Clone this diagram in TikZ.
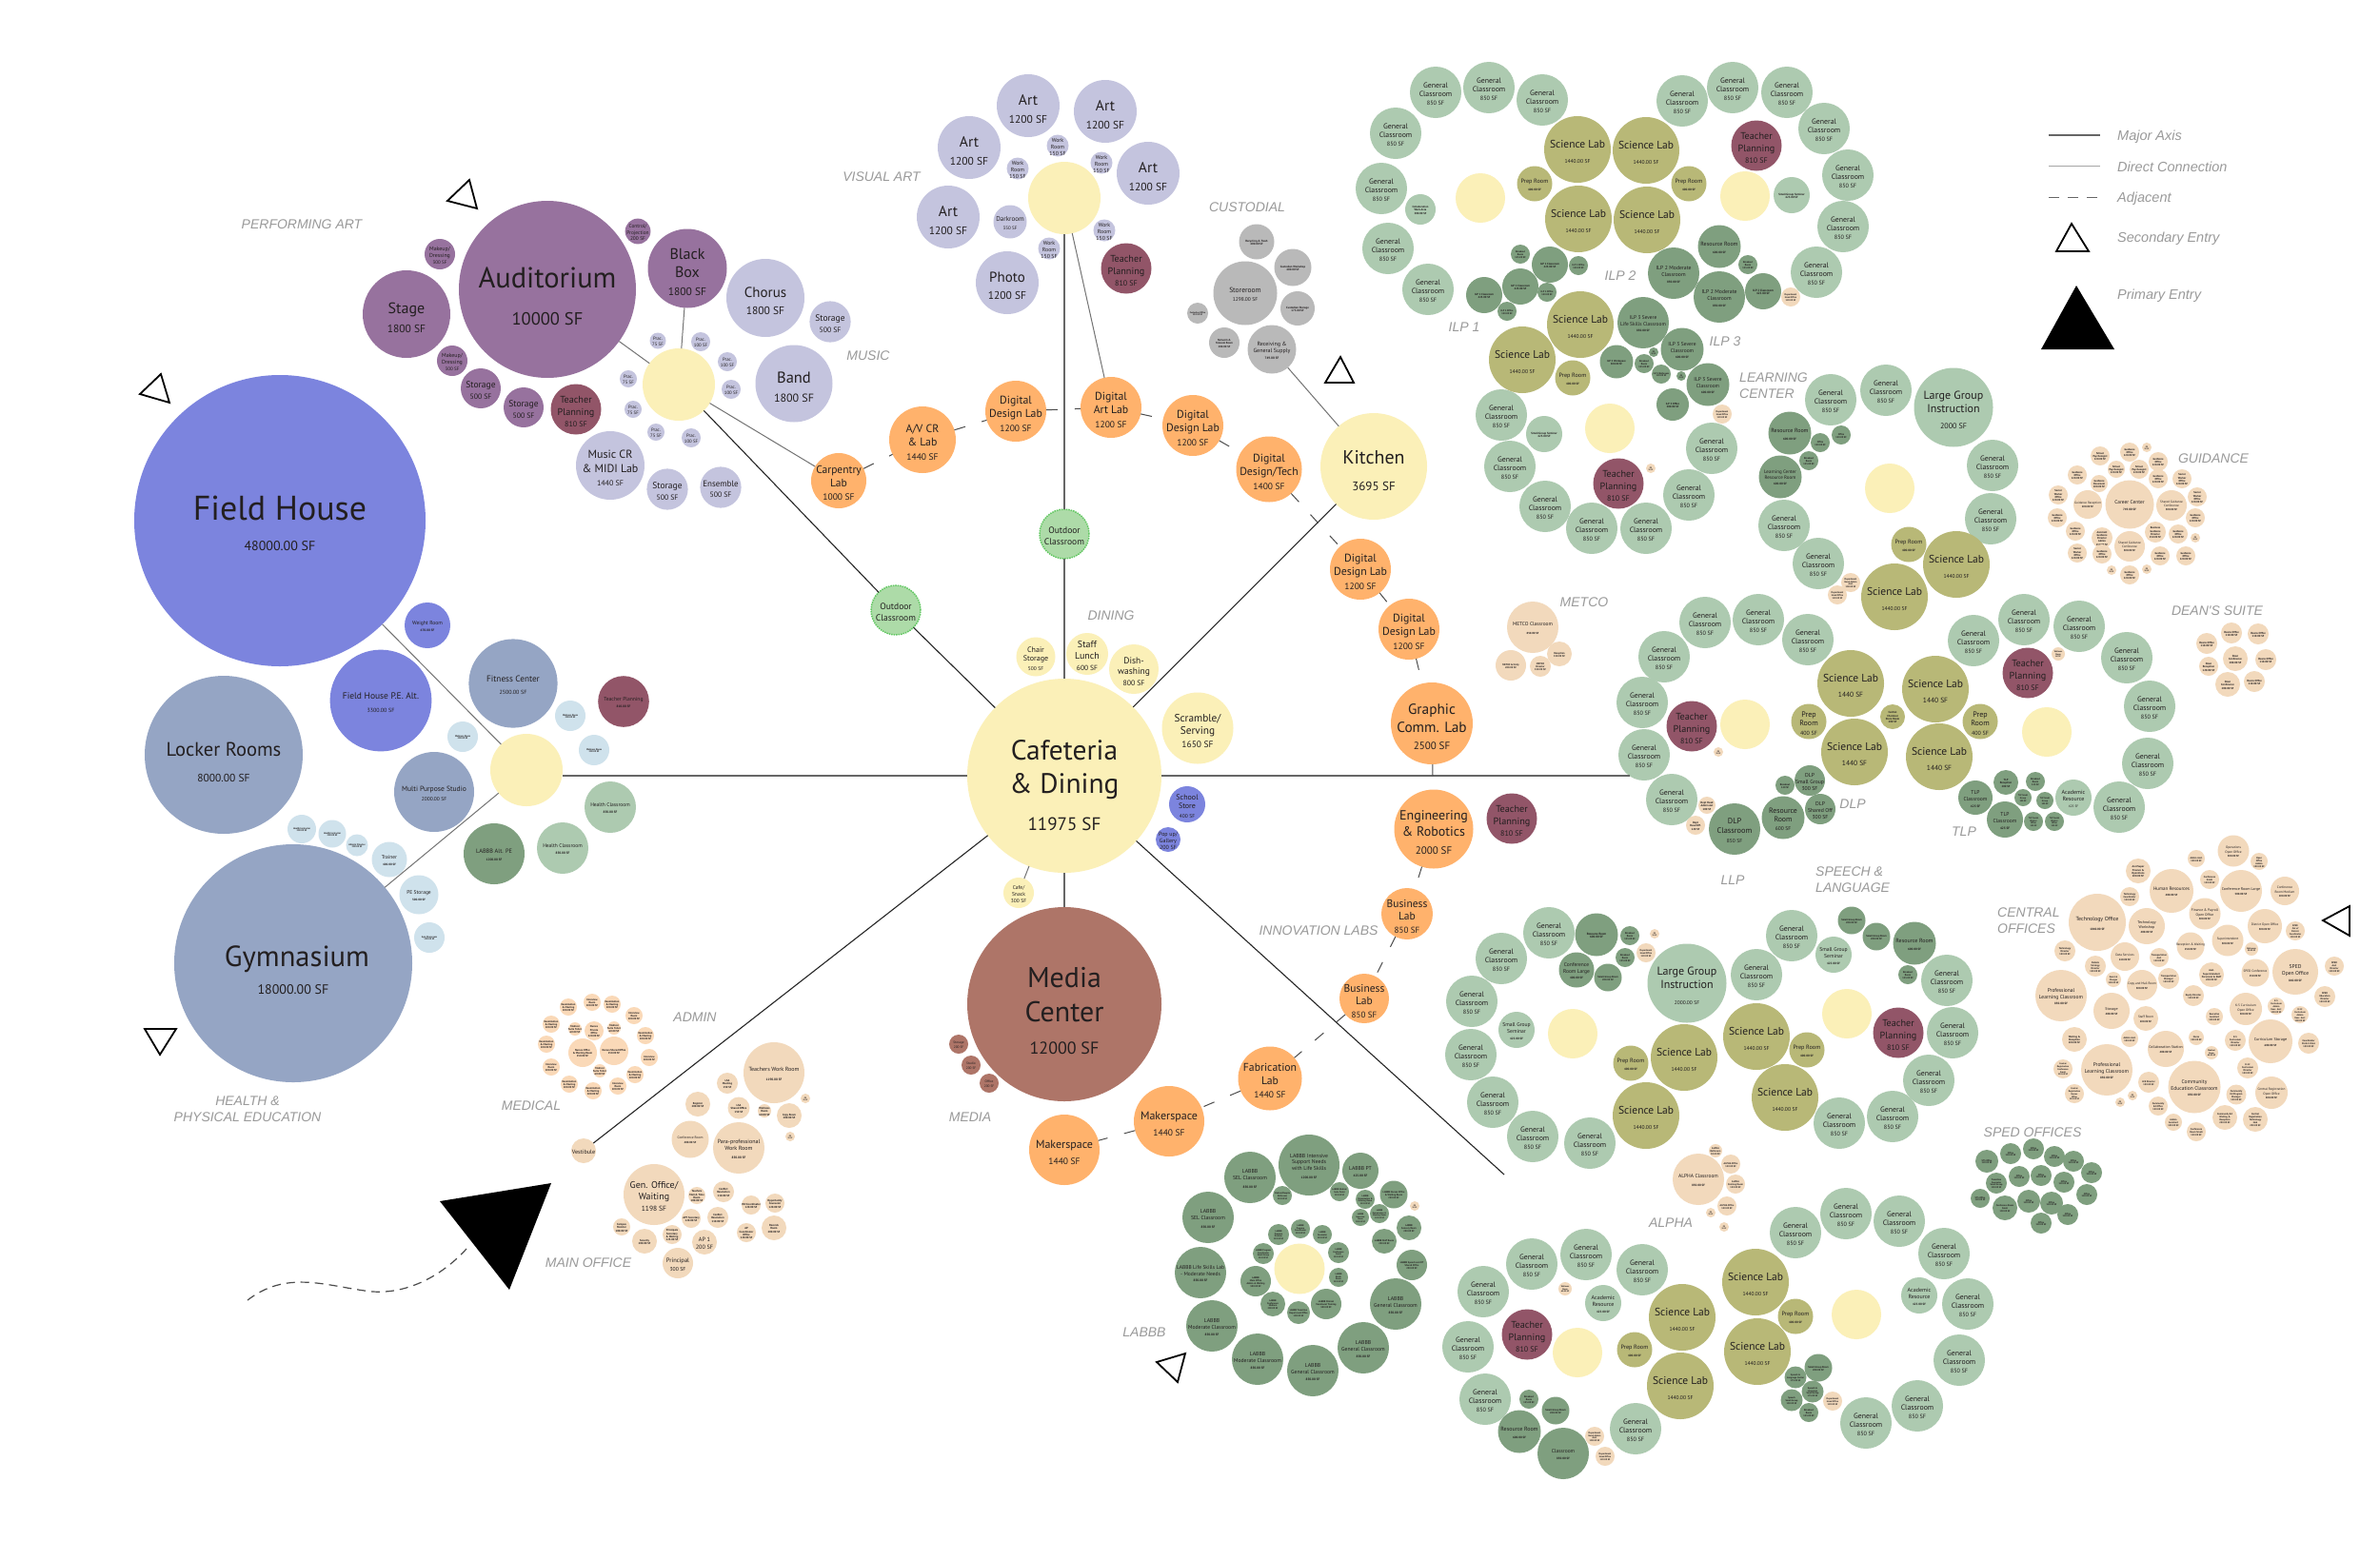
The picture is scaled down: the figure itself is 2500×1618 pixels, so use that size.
\documentclass[tikz,border=0pt]{standalone}
\usepackage{fontspec}
\setmainfont{PT Sans}
\newfontfamily\zonefont{Liberation Sans}

\definecolor{inkc}{HTML}{231F20}
\definecolor{fieldc}{HTML}{7C84DE}
\definecolor{gymc}{HTML}{95A5C4}
\definecolor{gymsmc}{HTML}{CFE2EC}
\definecolor{perfc}{HTML}{97729E}
\definecolor{artc}{HTML}{C4C4DE}
\definecolor{teachc}{HTML}{925568}
\definecolor{hubc}{HTML}{FBF0B8}
\definecolor{labc}{HTML}{FFB26C}
\definecolor{genc}{HTML}{ADCAB0}
\definecolor{darkc}{HTML}{7F9F7F}
\definecolor{scic}{HTML}{B8B877}
\definecolor{officec}{HTML}{F2D9BC}
\definecolor{medc}{HTML}{FAD9B8}
\definecolor{custc}{HTML}{B9B9B9}
\definecolor{mediac}{HTML}{AE7568}
\definecolor{outc}{HTML}{ADDBA8}
\definecolor{outlinec}{HTML}{62C862}
\definecolor{zonec}{HTML}{9A9A9A}

\newsavebox\rtbox
\newcommand{\setfs}[1]{\ifdim#1pt<3.3pt\fontsize{\fpeval{#1*1.12}}{\fpeval{#1*1.3}}\selectfont\bfseries\else\fontsize{#1}{\fpeval{#1*1.2}}\selectfont\fi}
\newcommand{\sft}[2]{{\setfs{#1}#2}}
\newcommand{\rt}[2][0pt]{\sbox\rtbox{\begin{tabular}{@{}c@{}}#2\end{tabular}}\makebox[0pt]{\smash{\raisebox{\dimexpr.5\dp\rtbox-.5\ht\rtbox-.35em+#1\relax}{\copy\rtbox}}}}

\tikzset{
  room/.style={circle,minimum size=#1*2pt,inner sep=0pt,outer sep=0pt,text=inkc},
  fs/.style={font=\setfs{#1}},
  axisline/.style={draw=black!60,line width=1.6pt},
  majorline/.style={draw=black!85,line width=1.1pt},
  directline/.style={draw=black!55,line width=1pt},
  adjline/.style={draw=black!70,line width=1pt,dash pattern=on 12pt off 18pt},
  zone/.style={font=\zonefont\itshape\setfs{#1},text=zonec,align=left,inner sep=0pt,yshift=-1.5pt},
  zone/.default=14,
  entry/.style={draw=black,line width=1.8pt,fill=white},
}

\begin{document}
\begin{tikzpicture}[x=1pt,y=-1pt]
  \useasboundingbox[fill=white] (0,0) rectangle (2500,1618);

  % Dining
  \node[room=102,fill=hubc,fs=29.5] (cafe) at (1118,815) {\rt[-3pt]{Cafeteria\\\& Dining\\[3pt]\sft{19}{11975 SF}}};
  \node[room=20.5,fill=hubc,fs=8] (chair) at (1088,690) {\rt{Chair\\Storage\\\sft{5.5}{500 SF}}};
  \node[room=22,fill=hubc,fs=10] (lunch) at (1142,687) {\rt{Staff\\Lunch\\\sft{7.5}{600 SF}}};
  \node[room=26,fill=hubc,fs=9.5] (dish) at (1191,703) {\rt{Dish-\\washing\\\sft{7.8}{800 SF}}};
  \node[room=37.5,fill=hubc,fs=11.3] (scramble) at (1258,765) {\rt{Scramble/\\Serving\\\sft{9.5}{1650 SF}}};
  \node[room=19,fill=fieldc,fs=8] (store) at (1247,845) {\rt{School\\Store\\\sft{5.5}{400 SF}}};
  \node[room=13,fill=fieldc,fs=6] (popup) at (1227,882) {\rt{Pop up/\\Gallery\\200 SF}};
  \node[room=16,fill=hubc,fs=5.6] (snack) at (1070,938) {\rt{Cafe/\\Snack\\\sft{5.5}{300 SF}}};
  \node[room=56,fill=hubc,fs=20] (kitchen) at (1443,490) {\rt{Kitchen\\[4pt]\sft{13}{3695 SF}}};

  % Athletics
  \node[room=153,fill=fieldc,fs=36] (field) at (294,547) {\rt[5.6pt]{Field House\\[-11pt]\sft{14}{48000.00 SF}}};
  \node[room=83,fill=gymc,fs=20.5] (locker) at (235,793) {\rt[-3pt]{Locker Rooms\\[2pt]\sft{11.5}{8000.00 SF}}};
  \node[room=125,fill=gymc,fs=30.6] (gym) at (308,1012) {\rt{\hspace*{8pt}Gymnasium\\[-8pt]\sft{14}{18000.00 SF}}};
  \node[room=53.4,fill=fieldc,fs=9.5] (fieldpe) at (400,736) {\rt{Field House P.E. Alt.\\[2pt]\sft{6}{3300.00 SF}}};
  \node[room=46.6,fill=gymc,fs=9.2] (fitness) at (539,718) {\rt{Fitness Center\\[2pt]\sft{6}{2500.00 SF}}};
  \node[room=42,fill=gymc,fs=7.6] (multi) at (456,832) {\rt{Multi Purpose Studio\\\sft{5.5}{2000.00 SF}}};
  \node[room=38,fill=hubc] (hubpe) at (553,809) {};
  \node[room=24,fill=fieldc,fs=5.6] (weight) at (449,657) {\rt{Weight Room\\\sft{3}{670.00 SF}}};
  \node[room=26.8,fill=teachc,fs=5.6] (teachpe) at (655,737) {\rt{Teacher Planning\\\sft{3}{810.00 SF}}};
  \node[room=27,fill=genc,fs=5.5] (health1) at (641,848) {\rt{Health Classroom\\\sft{3}{850.00 SF}}};
  \node[room=27,fill=genc,fs=5.5] (health2) at (591,891) {\rt{Health Classroom\\\sft{3}{850.00 SF}}};
  \node[room=32,fill=darkc,fs=6.3] (labbbpe) at (519,897) {\rt{LABBB Alt. PE\\\sft{3}{1200.00 SF}}};
  \node[room=18.5,fill=gymsmc,fs=5.5] (trainer) at (409,903) {\rt{Trainer\\\sft{2.8}{400.00 SF}}};
  \node[room=20.5,fill=gymsmc,fs=5.5] (pestore) at (440,940) {\rt{PE Storage\\\sft{2.8}{500.00 SF}}};
  \foreach \x/\y/\r/\lbl [count=\n] in {
      599/752/16/{Wellness Room}, 624/788/16/{Wellness Room}, 486/774/16/{Wellness Room},
      317/871/15/{Health Instructor}, 349/876/14.5/{Health Instructor},
      375/888/11.5/{Athletic Director}, 451/985/16/{Gym Storeroom}}
    \node[room=\r,fill=gymsmc,fs=2.2] (gymsm\n) at (\x,\y) {\rt{\lbl\\200.00 SF}};

  % Performing art and music
  \node[room=93,fill=perfc,fs=30.5] (audit) at (575,304) {\rt{Auditorium\\[3pt]\sft{18.5}{10000 SF}}};
  \node[room=46,fill=perfc,fs=16] (stage) at (427,330) {\rt{Stage\\\sft{11.5}{1800 SF}}};
  \node[room=41.5,fill=perfc,fs=16] (blackbox) at (722,282) {\rt{Black\\Box\\\sft{11.5}{1800 SF}}};
  \node[room=16,fill=perfc,fs=5.9] (makeup1) at (462,267) {\rt{Makeup/\\Dressing\\\sft{5}{300 SF}}};
  \node[room=16,fill=perfc,fs=5.9] (makeup2) at (475,379) {\rt{Makeup/\\Dressing\\\sft{5}{300 SF}}};
  \node[room=21,fill=perfc,fs=9.5] (perfstore1) at (505,408) {\rt{Storage\\\sft{7.8}{500 SF}}};
  \node[room=21,fill=perfc,fs=9.5] (perfstore2) at (550,428) {\rt{Storage\\\sft{7.8}{500 SF}}};
  \node[room=13.4,fill=perfc,fs=5.4] (control) at (670,243) {\rt{Control/\\Projection\\200 SF}};
  \node[room=38,fill=hubc] (hubmusic) at (713,404) {};
  \foreach \x/\y/\r/\lbl [count=\n] in {
      691/358/8.5/75, 736/359/10/100, 764/380/10/100, 768/409/10/100,
      660/398/9/75, 665/430/9/75, 689/454/9/75, 726/460/10/100}
    \node[room=\r,fill=artc,fs=4.8] (prac\n) at (\x,\y) {\rt{Prac.\\\lbl{} SF}};
  \node[room=41,fill=artc,fs=15] (chorus) at (804,313) {\rt{Chorus\\\sft{11.5}{1800 SF}}};
  \node[room=40.5,fill=artc,fs=16.5] (band) at (834,403) {\rt{Band\\\sft{12}{1800 SF}}};
  \node[room=21.6,fill=artc,fs=9.5] (musicstore1) at (872,338) {\rt{Storage\\\sft{7.8}{500 SF}}};
  \node[room=21.6,fill=artc,fs=9.5] (musicstore2) at (701,514) {\rt{Storage\\\sft{7.8}{500 SF}}};
  \node[room=21.6,fill=artc,fs=9] (ensemble) at (757,512) {\rt{Ensemble\\\sft{7.8}{500 SF}}};
  \node[room=36,fill=artc,fs=12] (midi) at (641,489) {\rt{Music CR\\\& MIDI Lab\\\sft{8}{1440 SF}}};

  % Visual art
  \node[room=38,fill=hubc] (hubart) at (1118,208) {};
  \foreach \x/\y [count=\n] in {1080/111,1161/117,1018/155,1206/182,996/228}
    \node[room=33,fill=artc,fs=15.5] (art\n) at (\x,\y) {\rt{Art\\\sft{11.5}{1200 SF}}};
  \node[room=33,fill=artc,fs=15] (photo) at (1058,297) {\rt{Photo\\\sft{11.5}{1200 SF}}};
  \node[room=17.5,fill=artc,fs=7] (darkroom) at (1061,233) {\rt{Darkroom\\\sft{5}{350 SF}}};
  \foreach \x/\y [count=\n] in {1111/153,1157/171,1069/177,1160/242,1102/261}
    \node[room=11.5,fill=artc,fs=5.8] (work\n) at (\x,\y) {\rt{Work\\Room\\150 SF}};

  % Custodial
  \foreach \x/\y/\r/\s/\lbl [count=\n] in {
      1320/254/18.5/2.7/{Recycling \& Trash\\400.00 SF}, 1358/281/19.5/2.7/{Custodian Workshop\\400.00 SF},
      1308/308/33.5/7.5/{Storeroom\\\sft{5.5}{1298.00 SF}}, 1363/324/18/2.7/{Custodian Storage\\175.00 SF},
      1258/329/11/2.1/{Custodian Office\\150.00 SF}, 1286/360/16/2.6/{Network \&\\Telecom Room\\200.00 SF},
      1336/367/25.5/6/{Receiving \&\\General Supply\\\sft{3}{749.00 SF}}}
    \node[room=\r,fill=custc,fs=\s] (cust\n) at (\x,\y) {\rt{\lbl}};

  % Labs along the spine
  \node[room=29,fill=labc,fs=11.5] (carpentry) at (881,505) {\rt{Carpentry\\Lab\\\sft{9.5}{1000 SF}}};
  \node[room=35,fill=labc,fs=11.8] (avlab) at (969,462) {\rt{A/V CR\\\& Lab\\\sft{9.5}{1440 SF}}};
  \node[room=32,fill=labc,fs=11.8] (design1) at (1067,432) {\rt{Digital\\Design Lab\\\sft{9.5}{1200 SF}}};
  \node[room=32,fill=labc,fs=11.8] (artlab) at (1167,428) {\rt{Digital\\Art Lab\\\sft{9.5}{1200 SF}}};
  \node[room=32,fill=labc,fs=11.8] (design2) at (1253,447) {\rt{Digital\\Design Lab\\\sft{9.5}{1200 SF}}};
  \node[room=34.5,fill=labc,fs=11.8] (designtech) at (1333,493) {\rt{Digital\\Design/Tech\\\sft{9.5}{1400 SF}}};
  \node[room=32,fill=labc,fs=11.8] (design3) at (1429,598) {\rt{Digital\\Design Lab\\\sft{9.5}{1200 SF}}};
  \node[room=32,fill=labc,fs=11.8] (design4) at (1480,661) {\rt{Digital\\Design Lab\\\sft{9.5}{1200 SF}}};
  \node[room=43,fill=labc,fs=15.3] (graphic) at (1504,760) {\rt{Graphic\\Comm. Lab\\\sft{11}{2500 SF}}};
  \node[room=41.5,fill=labc,fs=14] (robotics) at (1506,871) {\rt{Engineering\\\& Robotics\\[2pt]\sft{11}{2000 SF}}};
  \node[room=27,fill=labc,fs=11.5] (business1) at (1478,960) {\rt{Business\\Lab\\\sft{9}{850 SF}}};
  \node[room=26,fill=labc,fs=11.5] (business2) at (1433,1049) {\rt{Business\\Lab\\\sft{9}{850 SF}}};
  \node[room=33.5,fill=labc,fs=11.7] (fablab) at (1334,1133) {\rt{Fabrication\\Lab\\\sft{9.5}{1440 SF}}};
  \node[room=37,fill=labc,fs=12] (maker2) at (1228,1178) {\rt{Makerspace\\[3pt]\sft{9.5}{1440 SF}}};
  \node[room=37,fill=labc,fs=12] (maker1) at (1118,1208) {\rt{Makerspace\\[3pt]\sft{9.5}{1440 SF}}};
  \node[room=26,fill=outc,draw=outlinec,densely dotted,line width=1.5pt,fs=9.5] (outdoor1) at (941,641) {\rt{Outdoor\\Classroom}};
  \node[room=26,fill=outc,draw=outlinec,densely dotted,line width=1.5pt,fs=9.5] (outdoor2) at (1118,561) {\rt{Outdoor\\Classroom}};

  % Media
  \node[room=102,fill=mediac,fs=30] (media) at (1118,1055) {\rt{Media\\Center\\[-2pt]\sft{18}{12000 SF}}};
  \node[room=10,fill=mediac,fs=3.5] (mediastore) at (1007,1097) {\rt{Storage\\200 SF}};
  \node[room=10,fill=mediac,fs=3.5] (mediastudio) at (1020,1119) {\rt{Studio\\200 SF}};
  \node[room=10,fill=mediac,fs=3.5] (mediaoffice) at (1039,1138) {\rt{Office\\200 SF}};

  % Teacher planning
  \foreach \x/\y [count=\n] in {605/430,1183/282,1588/860,1845/153,1700/508,1777/763,2130/707,1994/1085,1604/1402}
    \node[room=26.5,fill=teachc,fs=10.2] (teach\n) at (\x,\y) {\rt{Teacher\\Planning\\\sft{8}{810 SF}}};

  % Hubs of the classroom clusters
  \foreach \x/\y [count=\n] in {1555/208,1833/206,1691/450,1985/513,1833/761,2150/769,1652/1086,1940/1065,1657/1421,1950/1381}
    \node[room=26,fill=hubc] (hub\n) at (\x,\y) {};

  % General classrooms
  \foreach \x/\y [count=\n] in {
      1508/97,1564/92,1620/105,1466/140,1451/198,1458/261,1500/304,
      1767/106,1820/92,1877/97,1916/135,1941/184,1936/238,1908/286,
      1577/436,1586/490,1623/532,1672/555,1729/555,1774/520,1798/471,
      1923/420,1981/410,2093/489,2091/545,1874/552,1910/592,
      1791/654,1847/651,1899/672,1748/690,1725/738,1727/793,1756/840,
      2073/673,2126/651,2184/658,2234/691,2258/742,2256/802,2226/848,
      1627/980,1577/1007,1546/1052,1545/1108,1568/1158,1610/1194,1670/1201,
      1882/983,1845/1024,2045/1030,2051/1085,2026/1135,1988/1173,1932/1180,
      1609/1328,1666/1318,1725/1334,1558/1357,1542/1415,1560/1470,1718/1501,
      1886/1295,1939/1275,1995/1283,2042/1317,2067/1370,2058/1429,2014/1477,1960/1495}
    \node[room=27,fill=genc,fs=7.8] (gen\n) at (\x,\y) {\rt{General\\Classroom\\\sft{6.2}{850 SF}}};

  % Science labs
  \foreach \x/\y [count=\n] in {1657/157,1729/158,1658/230,1730/231,1660/341,1599/378,2055/593,1990/627,
      1769/1111,1729/1172,1845/1089,1875/1153,1767/1384,1765/1456,1844/1347,1846/1420}
    \node[room=35,fill=scic,fs=11.5] (sci\n) at (\x,\y) {\rt{Science Lab\\[2pt]\sft{5.6}{1440.00 SF}}};
  \foreach \x/\y [count=\n] in {1944/718,1948/790,2033/724,2037/795}
    \node[room=35,fill=scic,fs=11.5] (scib\n) at (\x,\y) {\rt{Science Lab\\[2pt]\sft{7.5}{1440 SF}}};
  \foreach \x/\y [count=\n] in {1612/193,1774/193,1652/397,2005/572,1713/1117,1898/1103,1717/1418,1886/1383}
    \node[room=18.5,fill=scic,fs=6.2] (prep\n) at (\x,\y) {\rt{Prep Room\\\sft{2.8}{400.00 SF}}};
  \foreach \x/\y [count=\n] in {1900/758,2080/758}
    \node[room=18.5,fill=scic,fs=8] (prepb\n) at (\x,\y) {\rt{Prep\\Room\\\sft{6}{400 SF}}};
  \node[room=13,fill=scic,fs=2.6] (chem) at (1988,753) {\rt{Central\\Chemical\\Store Room\\200 SF}};

  % Large group rooms and seminars
  \foreach \x/\y/\r/\s/\lbl [count=\n] in {
      2052/428/41.5/12/{Large Group\\Instruction\\[3pt]\sft{8}{2000 SF}},
      1772/1033/41.5/12/{Large Group\\Instruction\\[3pt]\sft{5.5}{2000.00 SF}},
      1492/220/16/2.6/{Collaboration\\Work Area\\300.00 SF}, 1882/205/19/2.7/{Small Group Seminar\\425.00 SF},
      1622/456/19/2.7/{Small Group Seminar\\425.00 SF}, 1593/1082/19/5.6/{Small Group\\Seminar\\\sft{2.8}{425.00 SF}},
      1926/1003/19/5.6/{Small Group\\Seminar\\\sft{2.8}{425.00 SF}}, 1684/1369/19/6/{Academic\\Resource\\\sft{2.8}{425.00 SF}},
      2016/1361/19/6/{Academic\\Resource\\\sft{2.8}{425.00 SF}}, 2178/838/19/6/{Academic\\Resource\\\sft{3.5}{425 SF}}}
    \node[room=\r,fill=genc,fs=\s] (sem\n) at (\x,\y) {\rt{\lbl}};

  % Special programs
  \foreach \x/\y/\r/\s/\lbl [count=\n] in {
      1758/287/27/5.7/{ILP 2 Moderate\\Classroom\\\sft{2.8}{850.00 SF}}, 1806/312/27/5.7/{ILP 2 Moderate\\Classroom\\\sft{2.8}{850.00 SF}},
      1806/259/22.5/6/{Resource Room\\\sft{2.8}{600.00 SF}}, 1836/278/10/2.3/{Breakout\\Room\\125.00 SF},
      1852/306/19/2.8/{ILP 2 Classroom\\425.00 SF},
      1628/278/19/2.6/{ILP 1 Classroom\\425.00 SF}, 1597/301/19/2.6/{ILP 1 Classroom\\425.00 SF}, 1559/310/19/2.6/{ILP 1 Classroom\\425.00 SF},
      1658/279/10/2.3/{ILP 1 Office\\120.00 SF}, 1625/307/10/2.3/{ILP 1 Office\\120.00 SF}, 1583/327/10/2.3/{ILP 1 Office\\120.00 SF},
      1597/267/10/2.3/{Breakout\\Room\\125.00 SF},
      1726/339/27/5.4/{ILP 3 Severe\\Life Skills Classroom\\\sft{2.8}{850.00 SF}},
      1767/367/22.5/5.5/{ILP 3 Severe\\Classroom\\\sft{2.8}{600.00 SF}}, 1794/404/22.5/5.5/{ILP 3 Severe\\Classroom\\\sft{2.8}{600.00 SF}},
      1698/380/17.5/2.5/{ILP 3 Workspace\\300.00 SF}, 1727/382/10/2.3/{Breakout\\Room\\125.00 SF},
      1745/393/10/2.2/{ILP 3 Bathroom\\120.00 SF}, 1757/425/17/2.6/{ILP 3 Office\\300.00 SF},
      1880/455/22.5/6/{Resource Room\\\sft{2.8}{600.00 SF}}, 1870/501/22.5/5/{Learning Center\\Resource Room\\\sft{2.8}{600.00 SF}},
      1912/465/10/2.3/{Office\\120.00 SF}, 1934/457/10/2.3/{Office\\120.00 SF}, 1900/484/10/2.3/{Breakout\\Room\\125.00 SF},
      2075/838/18/5.6/{TLP\\Classroom\\\sft{3}{425 SF}}, 2106/861/19/5.6/{TLP\\Classroom\\\sft{3}{425 SF}},
      2107/822/13/2.6/{TLP\\Reception\\200 SF}, 2138/821/10/2.3/{Breakout\\Room\\125 SF},
      2125/838/9/2.1/{TLP Small\\Group\\100 SF}, 2148/841/9/2.1/{TLP Small\\Group\\100 SF},
      2136/863/10/2.1/{TLP Social\\Worker\\Office\\120 SF}, 2158/863/10/2.1/{TLP Social\\Worker\\Office\\120 SF},
      1822/871/27/8.3/{DLP\\Classroom\\\sft{5.5}{850 SF}}, 1873/859/22.5/7.8/{Resource\\Room\\\sft{5.5}{600 SF}},
      1901/820/16/5.7/{DLP\\Small Group\\300 SF}, 1875/825/10/2.4/{Breakout\\120 SF}, 1912/850/16/5.7/{DLP\\Shared Off\\300 SF},
      1677/982/22.5/2.8/{Resource Room\\600.00 SF}, 1712/983/10/2.3/{Breakout\\Room\\125.00 SF}, 1707/1006/10/2.3/{Breakout\\Room\\125.00 SF},
      1656/1019/18.5/5.5/{Conference\\Room Large\\\sft{2.8}{400.00 SF}}, 1689/1027/14.5/2.4/{Small Group Room\\200.00 SF},
      1945/967/14.5/2.4/{Small Group Room\\200.00 SF}, 1971/984/14.5/2.4/{Small Group Room\\200.00 SF},
      2011/991/22.5/6/{Resource Room\\\sft{2.8}{600.00 SF}}, 2004/1024/10/2.3/{Breakout\\Room\\125.00 SF},
      1606/1470/10/2.3/{Breakout\\Room\\125.00 SF}, 1634/1482/14.5/2.4/{Small Group Room\\200.00 SF},
      1596/1504/22.5/6/{Resource Room\\\sft{2.8}{600.00 SF}}, 1642/1527/27/5.5/{Classroom\\\sft{2.8}{850.00 SF}},
      1910/1437/14.5/2.4/{Small Group Room\\200.00 SF}, 1886/1447/11.5/2.2/{Speech \&\\Language Center\\175.00 SF},
      1904/1462/11.5/2.2/{Speech \&\\Language\\Small Group\\175.00 SF}, 1882/1471/11.5/2.2/{Speech\\Small Group\\150.00 SF},
      1900/1484/10/2.3/{Breakout\\Room\\125.00 SF}}
    \node[room=\r,fill=darkc,fs=\s] (prog\n) at (\x,\y) {\rt{\lbl}};

  % LABBB
  \node[room=26.5,fill=hubc] (hublabbb) at (1365,1333) {};
  \foreach \x/\y/\r/\s/\lbl [count=\n] in {
      1375/1224/32/5.7/{LABBB Intensive\\Support Needs\\with Life Skills\\[2pt]\sft{3}{1200.00 SF}},
      1313/1237/27/5.7/{LABBB\\SEL Classroom\\[2pt]\sft{3}{850.00 SF}}, 1269/1279/27/5.7/{LABBB\\SEL Classroom\\[2pt]\sft{3}{850.00 SF}},
      1261/1337/27/5.5/{LABBB Life Skills Lab\\- Moderate Needs\\\sft{3}{850.00 SF}},
      1273/1393/27/5.7/{LABBB\\Moderate Classroom\\\sft{3}{850.00 SF}}, 1321/1428/27/5.7/{LABBB\\Moderate Classroom\\\sft{3}{850.00 SF}},
      1379/1440/27/5.7/{LABBB\\General Classroom\\\sft{3}{850.00 SF}}, 1432/1416/27/5.7/{LABBB\\General Classroom\\\sft{3}{850.00 SF}},
      1466/1370/27/5.7/{LABBB\\General Classroom\\\sft{3}{850.00 SF}},
      1429/1230/19/5.6/{LABBB PT\\\sft{3}{425.00 SF}},
      1347/1256/10/2.1/{Medical/Respite\\Bathroom\\120.00 SF}, 1407/1252/10/2.1/{LABBB Medical\\Suite Toilet\\120.00 SF},
      1434/1260/10/2.1/{LABBB\\Organization \&\\Meeting Room\\120.00 SF}, 1464/1255/14.5/2.3/{LABBB Nurses Office\\\& Waiting Room\\250.00 SF},
      1429/1279/9/2/{LABBB\\Interview\\Room\\100.00 SF}, 1449/1275/10/2/{LABBB\\Examination \&\\Meeting Room\\120.00 SF},
      1480/1290/13/2.3/{LABBB\\Sensory Room\\200.00 SF}, 1454/1304/13/2.3/{LABBB Staff Room\\200.00 SF},
      1483/1329/16/2.3/{LABBB Speech and OT\\Shared Office\\200.00 SF},
      1343/1297/11/2.1/{LABBB\\Program\\Director\\120.00 SF}, 1366/1291/10/2.1/{LABBB\\Program\\Coordinator\\120.00 SF},
      1389/1297/10/2.1/{LABBB\\Counselor\\120.00 SF}, 1406/1316/11/2.1/{LABBB\\Conference\\Small\\150.00 SF},
      1406/1342/10/2.1/{LABBB\\Break\\Room\\120.00 SF}, 1393/1370/16/2.3/{LABBB Clinical\\Vocational Training\\300.00 SF},
      1364/1379/12/2.2/{LABBB Transition\\Department Office\\100.00 SF}, 1337/1370/13/2.2/{LABBB\\Conference\\Medium\\200.00 SF},
      1319/1346/16/2.3/{LABBB\\Main Office\\Admin \& Waiting\\300.00 SF}, 1327/1317/11/2.1/{LABBB Program\\Coordinator\\Small Group\\110.00 SF}}
    \node[room=\r,fill=darkc,fs=\s] (labbb\n) at (\x,\y) {\rt{\lbl}};

  % SPED offices
  \foreach \x/\y/\r/\lbl [count=\n] in {
      2087/1220/12/{STS Office\\120.00 SF}, 2080/1259/10/{STS Office\\120.00 SF}, 2097/1243/11/{Transition\\Counselor\\Small Group\\150.00 SF},
      2106/1269/13/{Conference Room\\Small\\150.00 SF}, 2112/1212/11/{Office\\120.00 SF}, 2136/1207/11/{Office\\120.00 SF},
      2158/1215/11/{Office\\120.00 SF}, 2178/1220/11/{Office\\120.00 SF}, 2197/1232/11/{Office\\120.00 SF}, 2121/1236/11/{Office\\120.00 SF},
      2144/1235/11/{Office\\120.00 SF}, 2168/1242/11/{Office\\120.00 SF}, 2192/1255/11/{Office\\120.00 SF}, 2131/1262/12/{Office\\120.00 SF},
      2155/1264/12/{Office\\120.00 SF}, 2144/1285/11/{Office\\120.00 SF}, 2172/1276/11/{Office\\120.00 SF}}
    \node[room=\r,fill=darkc,fs=2.2] (sped\n) at (\x,\y) {\rt{\lbl}};

  % Medical
  \foreach \x/\y/\r/\lbl [count=\n] in {
      622/1053/9/{Interview\\Room\\100.00 SF}, 597/1058/9/{Examination\\\& Meeting\\100.00 SF}, 643/1055/9/{Examination\\\& Meeting\\100.00 SF},
      666/1067/9/{Interview\\Room\\100.00 SF}, 579/1076/9/{Examination\\\& Meeting\\100.00 SF}, 678/1088/9/{Examination\\\& Meeting\\100.00 SF},
      574/1097/9/{Examination\\\& Meeting\\100.00 SF}, 682/1111/9/{Interview\\100.00 SF}, 579/1121/9/{Interview\\Room\\100.00 SF},
      667/1129/9/{Examination\\\& Meeting\\100.00 SF}, 598/1139/9/{Examination\\\& Meeting\\100.00 SF}, 623/1146/9/{Examination\\\& Meeting\\100.00 SF},
      649/1141/9/{Interview\\Room\\100.00 SF}, 604/1081/7/{Medical\\Suite Toilet\\60.00 SF}, 624/1083/10/{Nurses\\Private\\Office\\120.00 SF},
      645/1080/7/{Medical\\Suite Toilet\\60.00 SF}, 630/1125/7/{Medical\\Suite Toilet\\60.00 SF},
      612/1106/15/{Nurses Office\\\& Meeting Room\\250.00 SF}, 645/1104/15/{Nurses Shared Office\\250.00 SF}}
    \node[room=\r,fill=medc,fs=2.5] (med\n) at (\x,\y) {\rt{\lbl}};

  % Main office
  \node[room=13,fill=officec,fs=6.2] (vestibule) at (613,1209) {\rt{Vestibule}};
  \node[room=32,fill=officec,fs=10] (genoffice) at (687,1255) {\rt{Gen. Office/\\Waiting\\\sft{7.5}{1198 SF}}};
  \node[room=27,fill=officec,fs=6] (paraprof) at (776,1206) {\rt{Para-professional\\Work Room\\[2pt]\sft{3}{850.00 SF}}};
  \node[room=32,fill=officec,fs=6] (teachwork) at (813,1127) {\rt{Teachers Work Room\\[2pt]\sft{3}{1190.00 SF}}};
  \node[room=19.5,fill=officec,fs=3.6] (confroom) at (725,1197) {\rt{Conference Room\\\sft{2.6}{400.00 SF}}};
  \node[room=16,fill=officec,fs=6.5] (principal) at (712,1327) {\rt{Principal\\[1pt]\sft{5.7}{300 SF}}};
  \node[room=13,fill=officec,fs=6.2] (ap1) at (740,1305) {\rt{AP 1\\200 SF}};
  \foreach \x/\y/\r/\lbl [count=\n] in {
      764/1138/11/{LSA\\Meeting\\150 SF}, 733/1160/13/{Register\\200.00 SF}, 776/1164/11.5/{LSA\\Shared Office\\150 SF},
      803/1167/7/{Wellness\\Room\\60.00 SF}, 829/1172/13/{Copy Room\\200.00 SF},
      732/1256/9/{Teachers\\Mail \& Time\\Room\\100.00 SF}, 760/1252/11/{Conflict\\Resolution\\110.00 SF}, 754/1279/11/{Conflict\\Resolution\\110.00 SF},
      726/1280/10/{APT Secretary\\120.00 SF}, 789/1266/10/{ISH Coordinator\\120.00 SF}, 814/1264/10/{Opportunity\\Counselor\\120.00 SF},
      784/1295/10/{AP\\Coordinator\\Office\\120.00 SF}, 813/1290/13/{Records\\Room\\200.00 SF}, 653/1289/9/{Campus\\Monitor\\100.00 SF},
      677/1304/13/{Security\\200.00 SF}, 706/1297/10/{Principals\\Secretary\\\& Waiting\\125.00 SF}}
    \node[room=\r,fill=officec,fs=2.6] (admin\n) at (\x,\y) {\rt{\lbl}};

  % Guidance and deans
  \node[room=25.5,fill=officec,fs=5.4] (career) at (2237,530) {\rt{Career Center\\\sft{2.8}{749.00 SF}}};
  \foreach \x/\y/\r/\s/\lbl [count=\n] in {
      2193/530/15/3.3/{Guidance Reception\\\sft{2.5}{200.00 SF}}, 2281/531/16/3.3/{Shared Guidance\\Conference\\\sft{2.5}{300.00 SF}}, 2237/574/16/3.3/{Shared Guidance\\Conference\\\sft{2.5}{300.00 SF}},
      2264/559/11/2.5/{Business\\Guidance\\Director\\150.00 SF}, 2208/565/11/2.5/{Assistant\\Guidance\\Director\\Admin\\150.00 SF}, 2288/561/10/2.5/{Guidance\\Office\\120.00 SF},
      2205/508/9/2.5/{Guidance\\Classroom\\100.00 SF}, 2206/479/10/2.5/{School\\Psychologist\\120.00 SF}, 2223/493/9/2.5/{School\\Psychologist\\120.00 SF},
      2247/493/10/2.5/{School\\Psychologist\\120.00 SF}, 2237/475/10/2.5/{Guidance\\Office\\120.00 SF}, 2267/485/10/2.5/{Guidance\\Office\\120.00 SF},
      2267/503/10/2.5/{Guidance\\Office\\120.00 SF}, 2182/499/10/2.5/{Guidance\\Office\\120.00 SF}, 2161/544/10/2.5/{Guidance\\Office\\120.00 SF},
      2180/558/10/2.5/{Guidance\\Office\\120.00 SF}, 2208/582/10/2.5/{Guidance\\Office\\120.00 SF}, 2269/584/10/2.5/{Guidance\\Office\\120.00 SF},
      2296/584/10/2.5/{Guidance\\Office\\120.00 SF}, 2237/604/10/2.5/{Guidance\\Office\\120.00 SF}, 2306/544/10/2.5/{Guidance\\Office\\120.00 SF},
      2162/520/10/2.5/{Social\\Worker\\Office\\120.00 SF}, 2292/503/10/2.5/{Social\\Worker\\Office\\120.00 SF}, 2308/522/10/2.5/{Social\\Worker\\Office\\120.00 SF},
      2182/581/10/2.5/{Social\\Worker\\Office\\120.00 SF},
      2344/665/11/2.6/{Deans Office\\110.00 SF}, 2372/666/11/2.6/{Deans Office\\110.00 SF}, 2380/693/11/2.6/{Deans Office\\110.00 SF}, 2368/716/11/2.6/{Deans Office\\110.00 SF},
      2340/719/13/2.6/{Dean\\Conference\\200.00 SF}, 2348/692/13/2.6/{Dean\\Conference\\200.00 SF}, 2320/700/10/2.6/{Dean\\Reception\\120.00 SF}, 2318/676/11/2.6/{Deans Office\\110.00 SF}}
    \node[room=\r,fill=officec,fs=\s] (guid\n) at (\x,\y) {\rt{\lbl}};

  % Metco
  \node[room=27,fill=officec,fs=5.4] (metco) at (1610,659) {\rt{METCO Classroom\\[2pt]\sft{2.6}{850.00 SF}}};
  \node[room=16,fill=officec,fs=2.4] (metcoact) at (1587,699) {\rt{METCO Activity\\200.00 SF}};
  \node[room=11,fill=officec,fs=2.4] (metcodir) at (1618,700) {\rt{METCO\\Director\\150.00 SF}};
  \node[room=13,fill=officec,fs=2.4] (metcorec) at (1638,687) {\rt{Reception\\150.00 SF}};

  % Alpha
  \node[room=27,fill=officec,fs=5.5] (alpha) at (1784,1239) {\rt{ALPHA Classroom\\[2pt]\sft{2.8}{850.00 SF}}};
  \foreach \x/\y/\r/\lbl [count=\n] in {
      1802/1209/7/{ALPHA\\Bathroom\\50.00 SF}, 1818/1223/10/{ALPHA Office\\120.00 SF},
      1823/1244/10/{ALPHA\\Calming Room\\120.00 SF}, 1814/1267/10/{ALPHA Office\\120.00 SF}}
    \node[room=\r,fill=officec,fs=2.3] (alphasm\n) at (\x,\y) {\rt{\lbl}};

  % Central offices
  \foreach \x/\y/\r/\s/\lbl [count=\n] in {
      2203/969/30/5.9/{Technology Office\\[2pt]\sft{2.8}{1040.00 SF}}, 2165/1046/27/5.5/{Professional\\Learning Classroom\\\sft{2.8}{850.00 SF}},
      2213/1124/27/5.5/{Professional\\Learning Classroom\\\sft{2.8}{850.00 SF}}, 2218/1062/19/4/{Storage\\\sft{2.6}{400.00 SF}},
      2305/1142/27.5/5.5/{Community\\Education Classroom\\\sft{2.8}{850.00 SF}}, 2281/936/23/5/{Human Resources\\\sft{2.6}{400.00 SF}},
      2255/973/19/4/{Technology\\Workshop\\\sft{2.6}{400.00 SF}}, 2354/936/22/4/{Conference Room Large\\\sft{2.6}{500.00 SF}},
      2346/894/16.5/3.4/{Operations\\Open Office\\\sft{2.5}{300.00 SF}}, 2316/960/16.5/3.7/{Finance \& Payroll\\Open Office\\\sft{2.5}{300.00 SF}},
      2379/973/18/3.4/{District Open Office\\\sft{2.5}{300.00 SF}}, 2340/988/16.5/3.4/{Superintendent\\\sft{2.5}{300.00 SF}},
      2301/994/14.5/3.4/{Reception \& Waiting\\\sft{2.5}{250.00 SF}}, 2411/1021/24/5.6/{SPED\\Open Office\\\sft{2.8}{840.00 SF}},
      2369/1022/14.5/3.4/{SPED Conference\\\sft{2.5}{250.00 SF}}, 2323/1024/13/2.4/{Asst.\\Superintendent\\Personnel \& Staff\\200.00 SF},
      2232/1005/15/3.4/{Data Services\\\sft{2.5}{240.00 SF}}, 2250/1035/16/3.4/{Copy and Mail Room\\\sft{2.5}{300.00 SF}},
      2254/1070/13/3.4/{Staff Room\\\sft{2.5}{200.00 SF}}, 2275/1102/19/3.9/{Collaboration Station\\\sft{2.6}{400.00 SF}},
      2359/1060/17/3.4/{K-5 Curriculum\\Open Office\\\sft{2.5}{300.00 SF}}, 2385/1094/23/4.2/{Curriculum Storage\\\sft{2.6}{600.00 SF}},
      2386/1148/17/3.4/{Central Registration\\Open Office\\\sft{2.5}{300.00 SF}}, 2400/936/15/3.4/{Conference\\Room Medium\\\sft{2.5}{200.00 SF}},
      2246/915/13/2.5/{Asst Super\\Finance \&\\Operations\\200.00 SF}, 2179/1092/13/2.5/{Waiting \&\\Reception\\200.00 SF},
      2337/1174/13/2.3/{Community Ed\\Waiting \&\\Reception\\200.00 SF}, 2369/1176/13/2.3/{Central\\Registration\\Technology\\Hub\\200.00 SF},
      2307/902/9/2.3/{Admin Asst.\\100.00 SF}, 2373/905/9/2.3/{Open\\Office\\Admin\\100.00 SF}, 2321/924/10/2.3/{Conference\\Small\\120.00 SF},
      2237/942/10/2.3/{Technology\\Coordinator\\120.00 SF}, 2169/999/11/2.3/{Technology\\Director\\150.00 SF}, 2201/1015/11/2.3/{Details\\Strategy\\Director\\150.00 SF},
      2220/1029/8/2.2/{Event \&\\Charges\\100.00 SF}, 2268/1006/10/2.3/{Transportation\\Asst\\120.00 SF}, 2278/1028/11/2.3/{Transportation\\Manager\\150.00 SF},
      2304/1046/11/2.3/{Equity Director\\150.00 SF}, 2365/997/7/2/{Bathroom\\50.00 SF}, 2411/978/10/2.2/{SPED\\Out of\\District\\Coordinator\\150.00 SF},
      2452/1015/10/2.3/{SPED\\Asst\\Director\\150.00 SF}, 2442/1047/11/2.3/{SPED\\Education\\Director\\150.00 SF},
      2391/1057/9/2.2/{K-5\\Curriculum\\Admin\\Exec. Asst\\100.00 SF}, 2416/1066/9/2.2/{K-12\\Curriculum\\Admin\\Exec. Asst\\100.00 SF},
      2326/1068/9/2.3/{Executive\\Assistant\\100.00 SF}, 2425/1096/11/2.3/{Coordinator\\PreK-12 ELA\\150.00 SF}, 2237/1091/9/2.3/{Admin Asst.\\100.00 SF},
      2307/1090/8/2.3/{Nurse\\100.00 SF}, 2323/1106/7/2/{Medical\\Room\\60.00 SF}, 2348/1093/11/2.3/{K-5\\Curriculum\\Director\\150.00 SF},
      2361/1122/11/2.3/{K-12\\Curriculum\\Director\\150.00 SF}, 2349/1150/10.5/2.3/{Community\\Ed Program\\Manager\\120.00 SF},
      2167/1123/10/2.1/{Central\\Registration\\Conference\\Small\\120.00 SF}, 2179/1149/10/2.1/{Central\\Registration\\Nurses\\Office\\120.00 SF},
      2257/1137/11/2.3/{LCE Director\\150.00 SF}, 2267/1162/10/2.3/{Community\\Ed Office\\120.00 SF}, 2283/1179/9/2.3/{Admin\\Assistant\\100.00 SF},
      2307/1189/10/2.3/{Conference\\Room Small\\120.00 SF}}
    \node[room=\r,fill=officec,fs=\s] (central\n) at (\x,\y) {\rt{\lbl}};

  % Head offices and print rooms
  \foreach \x/\y/\r/\s/\lbl [count=\n] in {
      1881/312/10/2.2/{Department\\Head Office\\120.00 SF}, 1809/435/10/2.2/{Department\\Head Office\\120.00 SF},
      1944/612/10/2.2/{Department\\Head Admin\\Asst.\\100.00 SF}, 1930/625/10/2.2/{Department\\Head Office\\120.00 SF},
      1793/846/9/2.6/{Dept Head\\Admin Ast\\100 SF}, 1781/867/10/2.6/{Dept\\Head Off.\\120 SF}, 1729/1001/10/2.2/{Department\\Head Office\\120.00 SF},
      1675/1509/10/2.2/{Department\\Head Admin\\Asst.\\100.00 SF}, 1686/1530/10/2.2/{Department\\Head Office\\120.00 SF}, 1925/1472/10/2.2/{Department\\Head Office\\120.00 SF},
      2162/687/7/2/{Wellness\\Room\\60 SF}, 1644/1354/7/2/{Wellness\\Room\\60.00 SF},
      846/1154/5/1.8/{PR\\50 SF}, 830/1194/5/1.8/{PR\\50 SF}, 1734/492/5/1.8/{PR\\50 SF}, 1805/790/5/1.8/{PR\\50 SF}, 1738/981/5/1.8/{PR\\50 SF},
      1797/1274/5/1.8/{PR\\50 SF}, 1811/1289/5/1.8/{PR\\50 SF}, 1486/1267/5/1.8/{PR\\50 SF}, 2255/470/5/1.8/{PR\\50 SF}, 2306/565/5/1.8/{PR\\50 SF},
      2218/599/5/1.8/{PR\\50 SF}, 2255/598/5/1.8/{PR\\50 SF}, 2240/1151/5/1.8/{PR\\50 SF}, 2227/1158/5/1.8/{PR\\50 SF}}
    \node[room=\r,fill=officec,fs=\s] (head\n) at (\x,\y) {\rt{\lbl}};
  \foreach \x/\y [count=\n] in {1737/370,1766/395}
    \node[room=5,fill=darkc,fs=1.8] (prdark\n) at (\x,\y) {\rt{PR\\50 SF}};

  % Major axes
  \coordinate (eastend) at (1712,815);
  \coordinate (southend) at (1580,1234);
  \draw[axisline] (hubpe.east |- cafe.west) -- (cafe.west);
  \draw[axisline] (cafe.east) -- (eastend);
  \draw[axisline] (cafe) -- (outdoor2);
  \draw[axisline] (outdoor2) -- (hubart);
  \draw[axisline] (cafe) -- (media);
  \draw[majorline] (cafe) -- (outdoor1);
  \draw[majorline] (outdoor1) -- (hubmusic);
  \draw[majorline] (cafe) -- (kitchen);
  \draw[majorline] (cafe) -- (vestibule);
  \draw[majorline] (cafe) -- (southend);

  % Direct connections
  \draw[directline] (hubpe) -- (field);
  \draw[directline] (hubpe) -- (gym);
  \draw[directline] (hubmusic) -- (audit);
  \draw[directline] (hubmusic) -- (blackbox);
  \draw[directline] (hubmusic) -- (carpentry);
  \draw[directline] (hubart) -- (artlab);
  \draw[directline] (kitchen) -- (cust7);
  \draw[directline] (cafe) -- (snack);

  % Adjacent rooms
  \draw[adjline] (carpentry) -- (avlab);
  \draw[adjline] (avlab) -- (design1);
  \draw[adjline] (design1) -- (artlab);
  \draw[adjline] (artlab) -- (design2);
  \draw[adjline] (design2) -- (designtech);
  \draw[adjline] (designtech) -- (design3);
  \draw[adjline] (design3) -- (design4);
  \draw[adjline] (design4) -- (graphic);
  \draw[adjline] (graphic) -- (robotics);
  \draw[adjline] (robotics) -- (business1);
  \draw[adjline] (business1) -- (business2);
  \draw[adjline] (business2) -- (fablab);
  \draw[adjline] (fablab) -- (maker2);
  \draw[adjline] (maker2) -- (maker1);

  % Zone labels
  \node[zone] (zperf) at (317,234) {PERFORMING ART};
  \node[zone] (zmusic) at (912,372) {MUSIC};
  \node[zone] (zvisual) at (926,184) {VISUAL ART};
  \node[zone] (zcust) at (1310,216) {CUSTODIAL};
  \node[zone] (zdining) at (1167,645) {DINING};
  \node[zone] (zmetco) at (1664,631) {METCO};
  \node[zone] (zguid) at (2325,480) {GUIDANCE};
  \node[zone] (zdean) at (2329,640) {DEAN'S SUITE};
  \node[zone] (zilp1) at (1538,342) {ILP 1};
  \node[zone] (zilp2) at (1702,288) {ILP 2};
  \node[zone] (zilp3) at (1812,357) {ILP 3};
  \node[zone,anchor=west] (zlearn) at (1827,404) {LEARNING\\CENTER};
  \node[zone] (zdlp) at (1946,843) {DLP};
  \node[zone] (ztlp) at (2063,872) {TLP};
  \node[zone] (zllp) at (1820,923) {LLP};
  \node[zone,anchor=west] (zspeech) at (1907,923) {SPEECH \&\\LANGUAGE};
  \node[zone,anchor=west] (zcentral) at (2098,966) {CENTRAL\\OFFICES};
  \node[zone] (zsped) at (2135,1188) {SPED OFFICES};
  \node[zone] (zalpha) at (1755,1283) {ALPHA};
  \node[zone] (zlabbb) at (1202,1398) {LABBB};
  \node[zone] (zinno) at (1385,976) {INNOVATION LABS};
  \node[zone] (zmedia) at (1019,1172) {MEDIA};
  \node[zone] (zadmin) at (730,1067) {ADMIN};
  \node[zone] (zmedical) at (558,1160) {MEDICAL};
  \node[zone] (zmain) at (618,1325) {MAIN OFFICE};
  \node[zone,align=center] (zhealth) at (260,1164) {HEALTH \&\\PHYSICAL EDUCATION};

  % Entries
  \draw[entry] (493,189) -- (470,211) -- (501,219) -- cycle;
  \draw[entry] (169,393) -- (147,414) -- (178,423) -- cycle;
  \draw[entry] (152,1081) -- (185,1081) -- (168,1108) -- cycle;
  \draw[entry] (1408,375) -- (1392,402) -- (1422,402) -- cycle;
  \draw[entry] (1215,1431) -- (1245,1422) -- (1237,1452) -- cycle;
  \draw[entry] (2440,967) -- (2468,952) -- (2468,983) -- cycle;
  \fill[black] (462,1262) -- (579,1243) -- (535,1355) -- cycle;
  \coordinate (walk1) at (260,1366);
  \coordinate (walk2) at (383,1356);
  \coordinate (walk3) at (490,1312);
  \draw[black!70,line width=1.2pt,dash pattern=on 9pt off 6pt] (walk1) .. controls (300,1335) and (340,1350) .. (walk2) .. controls (420,1362) and (460,1345) .. (walk3);

  % Legend
  \coordinate (maj1) at (2152,142);
  \coordinate (maj2) at (2206,142);
  \coordinate (dir1) at (2152,174);
  \coordinate (dir2) at (2206,174);
  \coordinate (adj1) at (2152,207);
  \coordinate (adj2) at (2206,207);
  \draw[axisline,line width=1.2pt] (maj1) -- (maj2);
  \draw[directline,black!35] (dir1) -- (dir2);
  \draw[draw=black!60,line width=1pt,dash pattern=on 11pt off 9pt] (adj1) -- (adj2);
  \draw[entry] (2160,264) -- (2194,264) -- (2176,235) -- cycle;
  \fill[black] (2144,367) -- (2221,367) -- (2181,300) -- cycle;
  \node[zone=14.5,anchor=west] (lmaj) at (2224,142) {Major Axis};
  \node[zone=14.5,anchor=west] (ldir) at (2224,174) {Direct Connection};
  \node[zone=14.5,anchor=west] (ladj) at (2224,207) {Adjacent};
  \node[zone=14.5,anchor=west] (lsec) at (2224,249) {Secondary Entry};
  \node[zone=14.5,anchor=west] (lpri) at (2224,309) {Primary Entry};
\end{tikzpicture}
\end{document}
